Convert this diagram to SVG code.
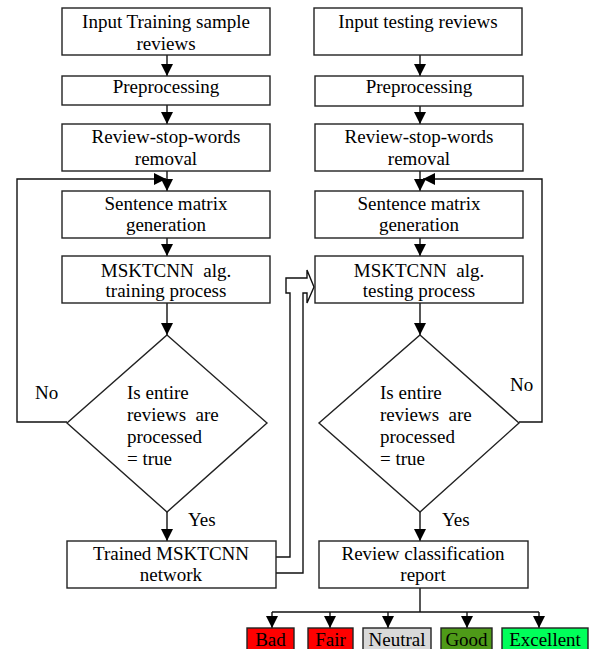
<svg xmlns="http://www.w3.org/2000/svg" width="590" height="649" viewBox="0 0 590 649">
<style>
.box{fill:#fff;stroke:#222;stroke-width:1.4}
.ln{fill:none;stroke:#111;stroke-width:1.4}
</style>
<defs>
<marker id="ah" markerUnits="userSpaceOnUse" markerWidth="12" markerHeight="12" viewBox="0 0 12 12" refX="12" refY="6" orient="auto">
<path d="M0,0 L12,6 L0,12 Z" fill="#000"/>
</marker>
</defs>
<rect width="590" height="649" fill="#fff"/>

<g id="connectors">
<line class="ln" x1="167" y1="55" x2="167" y2="76" marker-end="url(#ah)"/>
<line class="ln" x1="167" y1="105" x2="167" y2="124" marker-end="url(#ah)"/>
<line class="ln" x1="167" y1="171" x2="167" y2="191" marker-end="url(#ah)"/>
<line class="ln" x1="167" y1="238" x2="167" y2="256" marker-end="url(#ah)"/>
<line class="ln" x1="167" y1="303" x2="167" y2="335" marker-end="url(#ah)"/>
<line class="ln" x1="167" y1="512" x2="167" y2="541" marker-end="url(#ah)"/>
<polyline class="ln" points="67,422 17,422 17,179 166,179" marker-end="url(#ah)"/>

<line class="ln" x1="420" y1="55" x2="420" y2="76" marker-end="url(#ah)"/>
<line class="ln" x1="420" y1="106" x2="420" y2="124" marker-end="url(#ah)"/>
<line class="ln" x1="420" y1="171" x2="420" y2="191" marker-end="url(#ah)"/>
<line class="ln" x1="420" y1="238" x2="420" y2="256" marker-end="url(#ah)"/>
<line class="ln" x1="420" y1="303" x2="420" y2="335" marker-end="url(#ah)"/>
<line class="ln" x1="420" y1="512" x2="420" y2="541" marker-end="url(#ah)"/>
<polyline class="ln" points="519,422 542,422 542,179 423,179" marker-end="url(#ah)"/>

<path d="M276,573 H303 V293 H307 V303 L314,287 L307,270 V278 H286 V293 H290 V557 H276" fill="#fff" stroke="#111" stroke-width="1.4"/>

<line class="ln" x1="420" y1="588" x2="420" y2="612"/>
<line class="ln" x1="272" y1="612" x2="539" y2="612"/>
<line class="ln" x1="272" y1="612" x2="272" y2="628" marker-end="url(#ah)"/>
<line class="ln" x1="330" y1="612" x2="330" y2="628" marker-end="url(#ah)"/>
<line class="ln" x1="388" y1="612" x2="388" y2="628" marker-end="url(#ah)"/>
<line class="ln" x1="467" y1="612" x2="467" y2="628" marker-end="url(#ah)"/>
<line class="ln" x1="539" y1="612" x2="539" y2="628" marker-end="url(#ah)"/>
</g>

<g id="train-input">
<rect class="box" x="62" y="8" width="208" height="47"/>
<text x="166" y="28" font-family="Liberation Serif" font-size="19" text-anchor="middle">Input Training sample</text>
<text x="166" y="50" font-family="Liberation Serif" font-size="19" text-anchor="middle">reviews</text>
</g>
<g id="train-preprocessing">
<rect class="box" x="62" y="76" width="208" height="29"/>
<text x="166" y="93" font-family="Liberation Serif" font-size="19" text-anchor="middle">Preprocessing</text>
</g>
<g id="train-stopwords">
<rect class="box" x="62" y="124" width="208" height="47"/>
<text x="166" y="143" font-family="Liberation Serif" font-size="19" text-anchor="middle">Review-stop-words</text>
<text x="166" y="165" font-family="Liberation Serif" font-size="19" text-anchor="middle">removal</text>
</g>
<g id="train-matrix">
<rect class="box" x="62" y="191" width="208" height="47"/>
<text x="166" y="210" font-family="Liberation Serif" font-size="19" text-anchor="middle">Sentence matrix</text>
<text x="166" y="231" font-family="Liberation Serif" font-size="19" text-anchor="middle">generation</text>
</g>
<g id="train-process">
<rect class="box" x="62" y="256" width="208" height="47"/>
<text x="166" y="277" xml:space="preserve" font-family="Liberation Serif" font-size="19" text-anchor="middle">MSKTCNN  alg.</text>
<text x="166" y="297" font-family="Liberation Serif" font-size="19" text-anchor="middle">training process</text>
</g>
<g id="train-decision">
<polygon class="box" points="167,335 267,423 167,512 67,423"/>
<text x="127" y="399" font-family="Liberation Serif" font-size="19">Is entire</text>
<text x="127" y="421" xml:space="preserve" font-family="Liberation Serif" font-size="19">reviews  are</text>
<text x="127" y="443" font-family="Liberation Serif" font-size="19">processed</text>
<text x="127" y="465" font-family="Liberation Serif" font-size="19">= true</text>
</g>
<g id="train-labels">
<text x="35" y="399" font-family="Liberation Serif" font-size="19">No</text>
<text x="188" y="526" font-family="Liberation Serif" font-size="19">Yes</text>
</g>
<g id="trained-network">
<rect class="box" x="67" y="541" width="209" height="47"/>
<text x="171" y="560" font-family="Liberation Serif" font-size="19" text-anchor="middle">Trained MSKTCNN</text>
<text x="171" y="581" font-family="Liberation Serif" font-size="19" text-anchor="middle">network</text>
</g>

<g id="test-input">
<rect class="box" x="314" y="8" width="208" height="47"/>
<text x="418" y="28" font-family="Liberation Serif" font-size="19" text-anchor="middle">Input testing reviews</text>
</g>
<g id="test-preprocessing">
<rect class="box" x="315" y="76" width="208" height="30"/>
<text x="419" y="93" font-family="Liberation Serif" font-size="19" text-anchor="middle">Preprocessing</text>
</g>
<g id="test-stopwords">
<rect class="box" x="315" y="124" width="208" height="47"/>
<text x="419" y="143" font-family="Liberation Serif" font-size="19" text-anchor="middle">Review-stop-words</text>
<text x="419" y="165" font-family="Liberation Serif" font-size="19" text-anchor="middle">removal</text>
</g>
<g id="test-matrix">
<rect class="box" x="315" y="191" width="208" height="47"/>
<text x="419" y="210" font-family="Liberation Serif" font-size="19" text-anchor="middle">Sentence matrix</text>
<text x="419" y="231" font-family="Liberation Serif" font-size="19" text-anchor="middle">generation</text>
</g>
<g id="test-process">
<rect class="box" x="315" y="256" width="208" height="47"/>
<text x="419" y="277" xml:space="preserve" font-family="Liberation Serif" font-size="19" text-anchor="middle">MSKTCNN  alg.</text>
<text x="419" y="297" font-family="Liberation Serif" font-size="19" text-anchor="middle">testing process</text>
</g>
<g id="test-decision">
<polygon class="box" points="420,335 519,423 420,512 319,423"/>
<text x="380" y="399" font-family="Liberation Serif" font-size="19">Is entire</text>
<text x="380" y="421" xml:space="preserve" font-family="Liberation Serif" font-size="19">reviews  are</text>
<text x="380" y="443" font-family="Liberation Serif" font-size="19">processed</text>
<text x="380" y="465" font-family="Liberation Serif" font-size="19">= true</text>
</g>
<g id="test-labels">
<text x="510" y="391" font-family="Liberation Serif" font-size="19">No</text>
<text x="442" y="526" font-family="Liberation Serif" font-size="19">Yes</text>
</g>
<g id="report">
<rect class="box" x="319" y="541" width="209" height="47"/>
<text x="423" y="560" font-family="Liberation Serif" font-size="19" text-anchor="middle">Review classification</text>
<text x="423" y="581" font-family="Liberation Serif" font-size="19" text-anchor="middle">report</text>
</g>

<g id="bad">
<rect class="box" x="247" y="628" width="47" height="26" style="fill:#ff0000"/>
<text x="270.5" y="646" font-family="Liberation Serif" font-size="19" text-anchor="middle">Bad</text>
</g>
<g id="fair">
<rect class="box" x="308" y="628" width="45" height="26" style="fill:#ff0000"/>
<text x="330.5" y="646" font-family="Liberation Serif" font-size="19" text-anchor="middle">Fair</text>
</g>
<g id="neutral">
<rect class="box" x="363" y="628" width="68" height="26" style="fill:#d9d9d9"/>
<text x="397" y="646" font-family="Liberation Serif" font-size="19" text-anchor="middle">Neutral</text>
</g>
<g id="good">
<rect class="box" x="441" y="628" width="51" height="26" style="fill:#4e9a18"/>
<text x="466.5" y="646" font-family="Liberation Serif" font-size="19" text-anchor="middle">Good</text>
</g>
<g id="excellent">
<rect class="box" x="502" y="628" width="86" height="26" style="fill:#00ff5a"/>
<text x="545" y="646" font-family="Liberation Serif" font-size="19" text-anchor="middle">Excellent</text>
</g>
</svg>
